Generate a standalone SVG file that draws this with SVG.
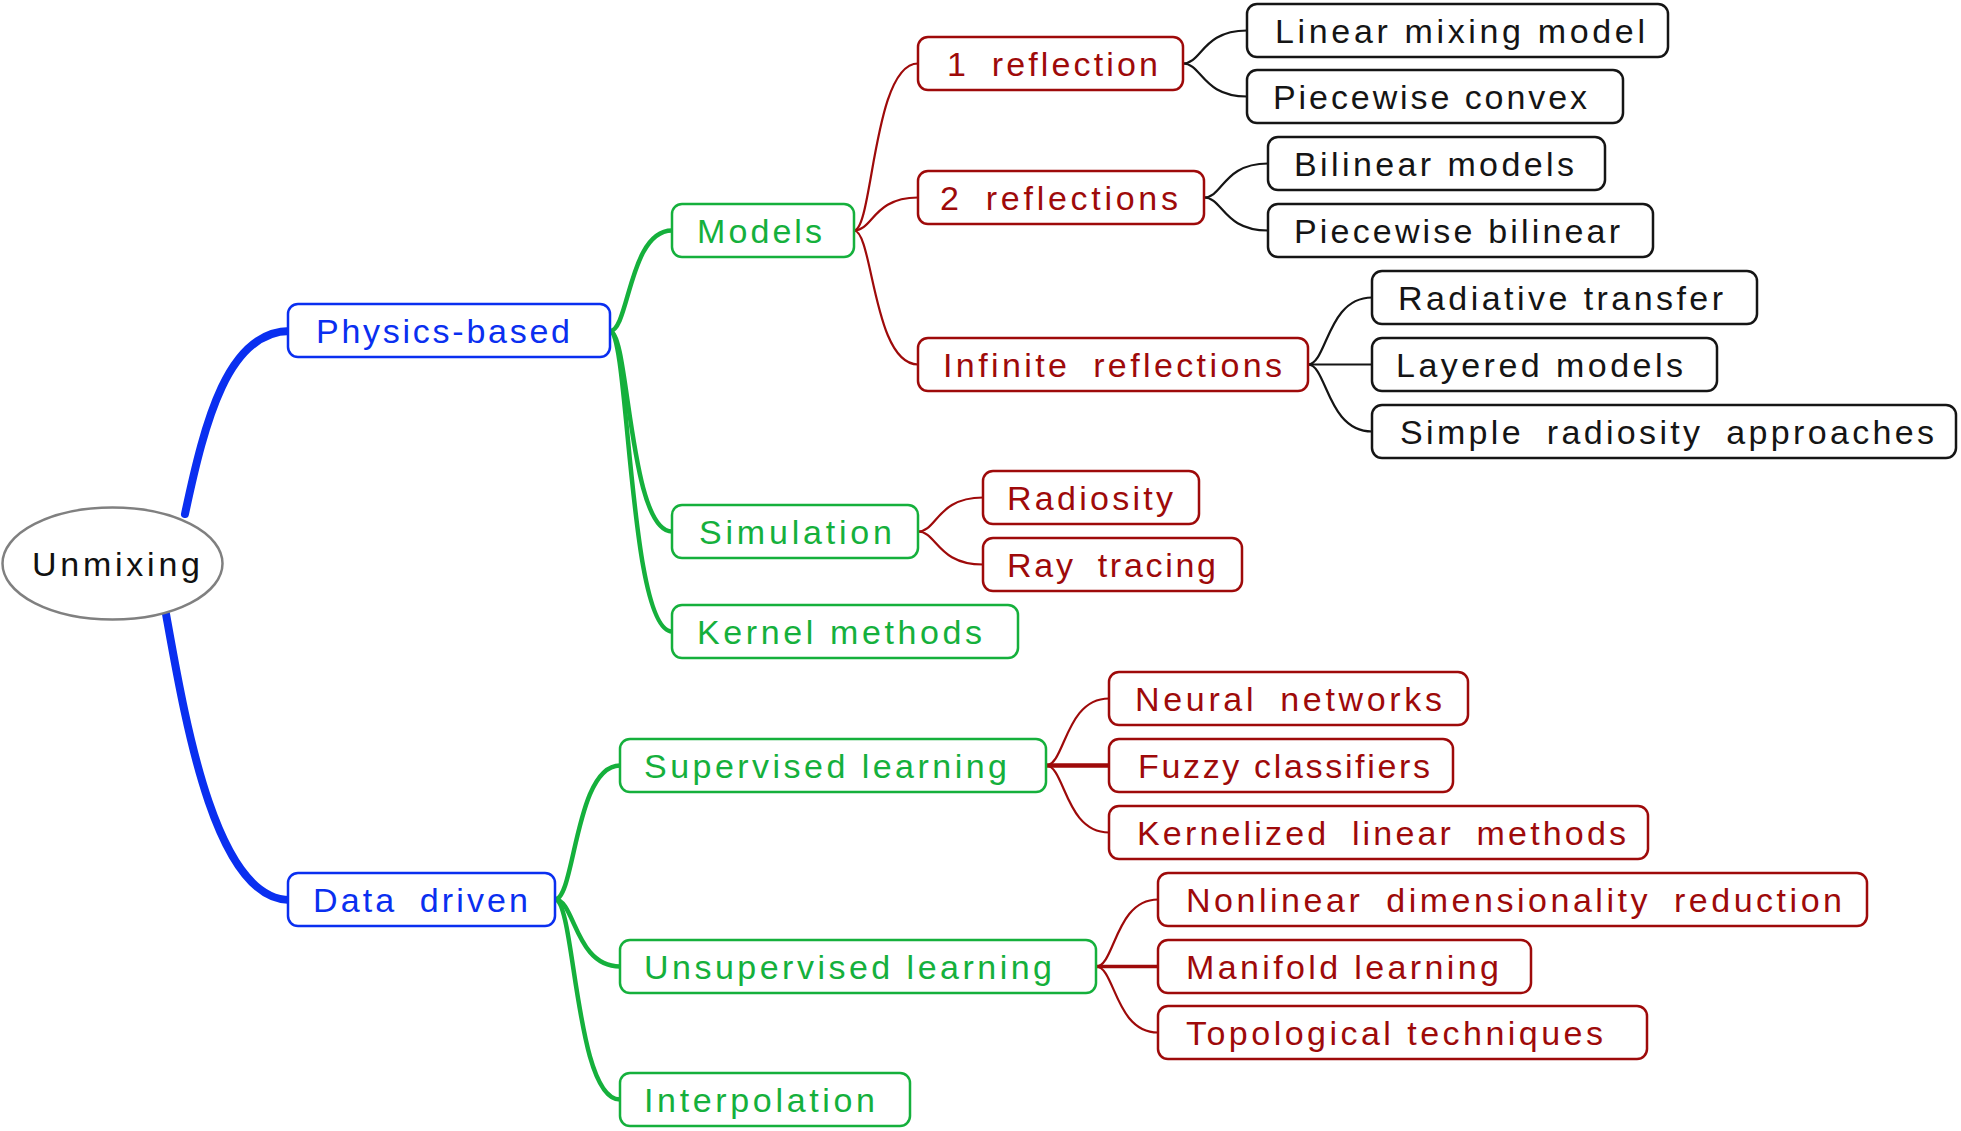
<svg xmlns="http://www.w3.org/2000/svg" width="1961" height="1131" viewBox="0 0 1961 1131">
<style>
text{font-family:"Liberation Sans",Arial,sans-serif;font-size:34px}
.box{fill:#fff;stroke-width:2.5}
.b rect{stroke:#0a2ff0}.b text{fill:#0a2ff0}
.g rect{stroke:#15b03c}.g text{fill:#15b03c}
.r rect{stroke:#9e0a0a}.r text{fill:#9e0a0a}
.k rect{stroke:#151515}.k text{fill:#151515}
.ws{word-spacing:10px}
#connectors path{fill:none;stroke-linecap:round}
.cb{stroke:#0a2ff0;stroke-width:8}
.cg{stroke:#15b03c;stroke-width:4.5}
.cr{stroke:#9e0a0a;stroke-width:2.2}
.ck{stroke:#151515;stroke-width:2.2}
</style>
<rect width="1961" height="1131" fill="#fff"/>
<g id="connectors">
<path class="cb" d="M185 514 C205 420 228 331 290 331"/>
<path class="cb" d="M166 614 C185 720 215 900 290 900"/>
<path class="cg" d="M610 331 C629 331 629 230.5 672 230.5"/>
<path class="cg" d="M610 331 C629 331 629 531.5 672 531.5"/>
<path class="cg" d="M610 331 C629 331 629 631.5 672 631.5"/>
<path class="cg" d="M555 899.5 C575 899.5 575 765.5 620 765.5"/>
<path class="cg" d="M555 899.5 C575 899.5 575 966.5 620 966.5"/>
<path class="cg" d="M555 899.5 C575 899.5 575 1099.5 620 1099.5"/>
<path class="cr" d="M854 230.5 C873 230.5 873 63.5 918 63.5"/>
<path class="cr" d="M854 230.5 C873 230.5 873 197.5 918 197.5"/>
<path class="cr" d="M854 230.5 C873 230.5 873 364.5 918 364.5"/>
<path class="cr" d="M918 531.5 C937 531.5 937 497.5 983 497.5"/>
<path class="cr" d="M918 531.5 C937 531.5 937 564.5 983 564.5"/>
<path class="cr" d="M1046 765.5 C1065 765.5 1065 698.5 1109 698.5"/>
<path class="cr" d="M1046 765.5 L1109 765.5" style="stroke-width:4.5"/>
<path class="cr" d="M1046 765.5 C1065 765.5 1065 832.5 1109 832.5"/>
<path class="cr" d="M1096 966.5 C1115 966.5 1115 899.5 1158 899.5"/>
<path class="cr" d="M1096 966.5 L1158 966.5" style="stroke-width:3.5"/>
<path class="cr" d="M1096 966.5 C1115 966.5 1115 1032.5 1158 1032.5"/>
<path class="ck" d="M1183 63.5 C1202 63.5 1202 30.5 1247 30.5"/>
<path class="ck" d="M1183 63.5 C1202 63.5 1202 96.5 1247 96.5"/>
<path class="ck" d="M1204 197.5 C1223 197.5 1223 163.5 1268 163.5"/>
<path class="ck" d="M1204 197.5 C1223 197.5 1223 230.5 1268 230.5"/>
<path class="ck" d="M1308 364.5 C1327 364.5 1327 297.5 1372 297.5"/>
<path class="ck" d="M1308 364.5 L1372 364.5"/>
<path class="ck" d="M1308 364.5 C1327 364.5 1327 431.5 1372 431.5"/>
</g>
<g id="unmixing"><ellipse cx="112.5" cy="563.5" rx="110" ry="56" fill="#fff" stroke="#808080" stroke-width="2.5"/><text x="32" y="576" textLength="168" fill="#111">Unmixing</text></g>
<g id="physics-based" class="b"><rect class="box" x="288" y="304" width="322" height="53" rx="10"/><text x="316" y="343" textLength="254">Physics-based</text></g>
<g id="data-driven" class="b"><rect class="box" x="288" y="873" width="267" height="53" rx="10"/><text class="ws" x="313" y="912" textLength="215">Data driven</text></g>
<g id="models" class="g"><rect class="box" x="672" y="204" width="182" height="53" rx="10"/><text x="697" y="243" textLength="125">Models</text></g>
<g id="simulation" class="g"><rect class="box" x="672" y="505" width="246" height="53" rx="10"/><text x="699" y="544" textLength="193">Simulation</text></g>
<g id="kernel-methods" class="g"><rect class="box" x="672" y="605" width="346" height="53" rx="10"/><text x="697" y="644" textLength="285">Kernel methods</text></g>
<g id="supervised-learning" class="g"><rect class="box" x="620" y="739" width="426" height="53" rx="10"/><text x="644" y="778" textLength="363">Supervised learning</text></g>
<g id="unsupervised-learning" class="g"><rect class="box" x="620" y="940" width="476" height="53" rx="10"/><text x="644" y="979" textLength="408">Unsupervised learning</text></g>
<g id="interpolation" class="g"><rect class="box" x="620" y="1073" width="290" height="53" rx="10"/><text x="644" y="1112" textLength="231">Interpolation</text></g>
<g id="one-reflection" class="r"><rect class="box" x="918" y="37" width="265" height="53" rx="10"/><text class="ws" x="947" y="76" textLength="211">1 reflection</text></g>
<g id="two-reflections" class="r"><rect class="box" x="918" y="171" width="286" height="53" rx="10"/><text class="ws" x="940" y="210" textLength="238">2 reflections</text></g>
<g id="infinite-reflections" class="r"><rect class="box" x="918" y="338" width="390" height="53" rx="10"/><text class="ws" x="943" y="377" textLength="339">Infinite reflections</text></g>
<g id="radiosity" class="r"><rect class="box" x="983" y="471" width="216" height="53" rx="10"/><text x="1007" y="510" textLength="166">Radiosity</text></g>
<g id="ray-tracing" class="r"><rect class="box" x="983" y="538" width="259" height="53" rx="10"/><text class="ws" x="1007" y="577" textLength="209">Ray tracing</text></g>
<g id="neural-networks" class="r"><rect class="box" x="1109" y="672" width="359" height="53" rx="10"/><text class="ws" x="1135" y="711" textLength="307">Neural networks</text></g>
<g id="fuzzy-classifiers" class="r"><rect class="box" x="1109" y="739" width="344" height="53" rx="10"/><text x="1138" y="778" textLength="292">Fuzzy classifiers</text></g>
<g id="kernelized-linear-methods" class="r"><rect class="box" x="1109" y="806" width="539" height="53" rx="10"/><text class="ws" x="1137" y="845" textLength="489">Kernelized linear methods</text></g>
<g id="nonlinear-dimensionality-reduction" class="r"><rect class="box" x="1158" y="873" width="709" height="53" rx="10"/><text class="ws" x="1186" y="912" textLength="656">Nonlinear dimensionality reduction</text></g>
<g id="manifold-learning" class="r"><rect class="box" x="1158" y="940" width="373" height="53" rx="10"/><text x="1186" y="979" textLength="313">Manifold learning</text></g>
<g id="topological-techniques" class="r"><rect class="box" x="1158" y="1006" width="489" height="53" rx="10"/><text x="1186" y="1045" textLength="417">Topological techniques</text></g>
<g id="linear-mixing-model" class="k"><rect class="box" x="1247" y="4" width="421" height="53" rx="10"/><text x="1275" y="43" textLength="370">Linear mixing model</text></g>
<g id="piecewise-convex" class="k"><rect class="box" x="1247" y="70" width="376" height="53" rx="10"/><text x="1273" y="109" textLength="314">Piecewise convex</text></g>
<g id="bilinear-models" class="k"><rect class="box" x="1268" y="137" width="337" height="53" rx="10"/><text x="1294" y="176" textLength="280">Bilinear models</text></g>
<g id="piecewise-bilinear" class="k"><rect class="box" x="1268" y="204" width="385" height="53" rx="10"/><text x="1294" y="243" textLength="326">Piecewise bilinear</text></g>
<g id="radiative-transfer" class="k"><rect class="box" x="1372" y="271" width="385" height="53" rx="10"/><text x="1398" y="310" textLength="325">Radiative transfer</text></g>
<g id="layered-models" class="k"><rect class="box" x="1372" y="338" width="345" height="53" rx="10"/><text x="1396" y="377" textLength="287">Layered models</text></g>
<g id="simple-radiosity-approaches" class="k"><rect class="box" x="1372" y="405" width="584" height="53" rx="10"/><text class="ws" x="1400" y="444" textLength="534">Simple radiosity approaches</text></g>
</svg>
